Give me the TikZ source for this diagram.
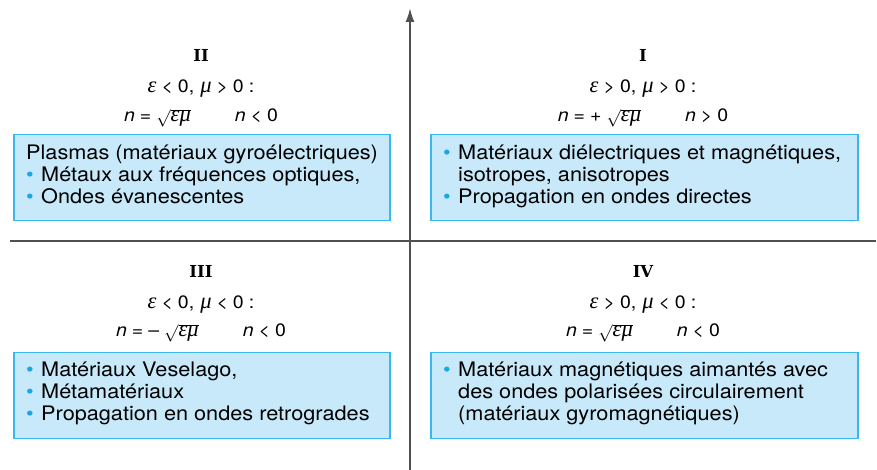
\documentclass[tikz,border=0pt]{standalone}
\usepackage{fontspec}
\setsansfont[FakeStretch=1.085]{TeX Gyre Heros}
\newfontfamily\chiffre{DejaVu Serif}
\newfontfamily\grec[Scale=1.25]{Liberation Serif}
\usetikzlibrary{arrows.meta,positioning}

\definecolor{boxfill}{RGB}{200,233,250}
\definecolor{boxline}{RGB}{58,183,238}
\definecolor{puce}{RGB}{25,165,230}
\definecolor{axe}{RGB}{80,80,80}

\newcommand{\puce}{\makebox[15pt][l]{\textcolor{puce}{\textbullet}}}
\newcommand{\retrait}{\hspace*{15pt}}
\newcommand{\rel}[1]{\hspace{5pt}#1\hspace{5pt}}
\newcommand{\nsf}{{\itshape n}}
\newcommand{\eps}{{\grec\itshape ε}}
\newcommand{\mmu}{{\grec\itshape μ}}
\newcommand{\racine}{$\sqrt{\mbox{\eps\mmu}}$}

\begin{document}
\begin{tikzpicture}[x=1pt, y=1pt,
  boite/.style={draw=boxline, fill=boxfill, line width=1.5pt, minimum height=86pt, anchor=north west, inner sep=0pt},
  liste/.style={anchor=base west, align=left, inner sep=0pt, font=\fontsize{20}{22}\selectfont\sffamily},
  quadrant/.style={anchor=base, inner sep=0pt, font=\fontsize{16.5}{20}\selectfont\chiffre\bfseries},
  formule/.style={anchor=base, inner sep=0pt, font=\fontsize{18}{20}\selectfont\sffamily}]
  \useasboundingbox (0,0) rectangle (877,470);

  % axes
  \coordinate (gauche) at (10,229);
  \coordinate (droite) at (876,229);
  \coordinate (bas) at (410,0);
  \coordinate (haut) at (410,462);
  \draw[axe, line width=2pt] (gauche) -- (droite);
  \draw[axe, line width=2pt, -{Latex[length=14pt,width=9pt]}] (bas) -- (haut);

  % quadrant II
  \node[quadrant] (q2) at (201,408) {II};
  \node[formule]  (c2) at (201,377) {\eps\rel{<}0,\hspace{6pt}\mmu\rel{>}0\hspace{5pt}:};
  \node[formule]  (n2) at (201,348) {\nsf\rel{=}\racine\hspace{44pt}\nsf\rel{<}0};
  \node[boite, minimum width=376pt] (b2) at (13,336) {};
  \node[liste] (t2) at (26,266) {Plasmas (matériaux gyroélectriques)\\
    \puce Métaux aux fréquences optiques,\\
    \puce Ondes évanescentes};

  % quadrant I
  \node[quadrant] (q1) at (643,408) {I};
  \node[formule]  (c1) at (643,377) {\eps\rel{>}0,\hspace{6pt}\mmu\rel{>}0\hspace{5pt}:};
  \node[formule]  (n1) at (643,348) {\nsf\rel{=}+\hspace{5pt}\racine\hspace{44pt}\nsf\rel{>}0};
  \node[boite, minimum width=427pt] (b1) at (430,336) {};
  \node[liste] (t1) at (443,266) {\puce Matériaux diélectriques et magnétiques,\\
    \retrait isotropes, anisotropes\\
    \puce Propagation en ondes directes};

  % quadrant III
  \node[quadrant] (q3) at (201,192) {III};
  \node[formule]  (c3) at (201,161) {\eps\rel{<}0,\hspace{6pt}\mmu\rel{<}0\hspace{5pt}:};
  \node[formule]  (n3) at (201,133) {\nsf\rel{=}–\hspace{5pt}\racine\hspace{44pt}\nsf\rel{<}0};
  \node[boite, minimum width=376pt] (b3) at (13,118) {};
  \node[liste] (t3) at (26,49) {\puce Matériaux Veselago,\\
    \puce Métamatériaux\\
    \puce Propagation en ondes retrogrades};

  % quadrant IV
  \node[quadrant] (q4) at (643,192) {IV};
  \node[formule]  (c4) at (643,161) {\eps\rel{>}0,\hspace{6pt}\mmu\rel{<}0\hspace{5pt}:};
  \node[formule]  (n4) at (643,133) {\nsf\rel{=}\racine\hspace{44pt}\nsf\rel{<}0};
  \node[boite, minimum width=427pt] (b4) at (430,118) {};
  \node[liste] (t4) at (443,49) {\puce Matériaux magnétiques aimantés avec\\
    \retrait des ondes polarisées circulairement\\
    \retrait (matériaux gyromagnétiques)};
\end{tikzpicture}
\end{document}
